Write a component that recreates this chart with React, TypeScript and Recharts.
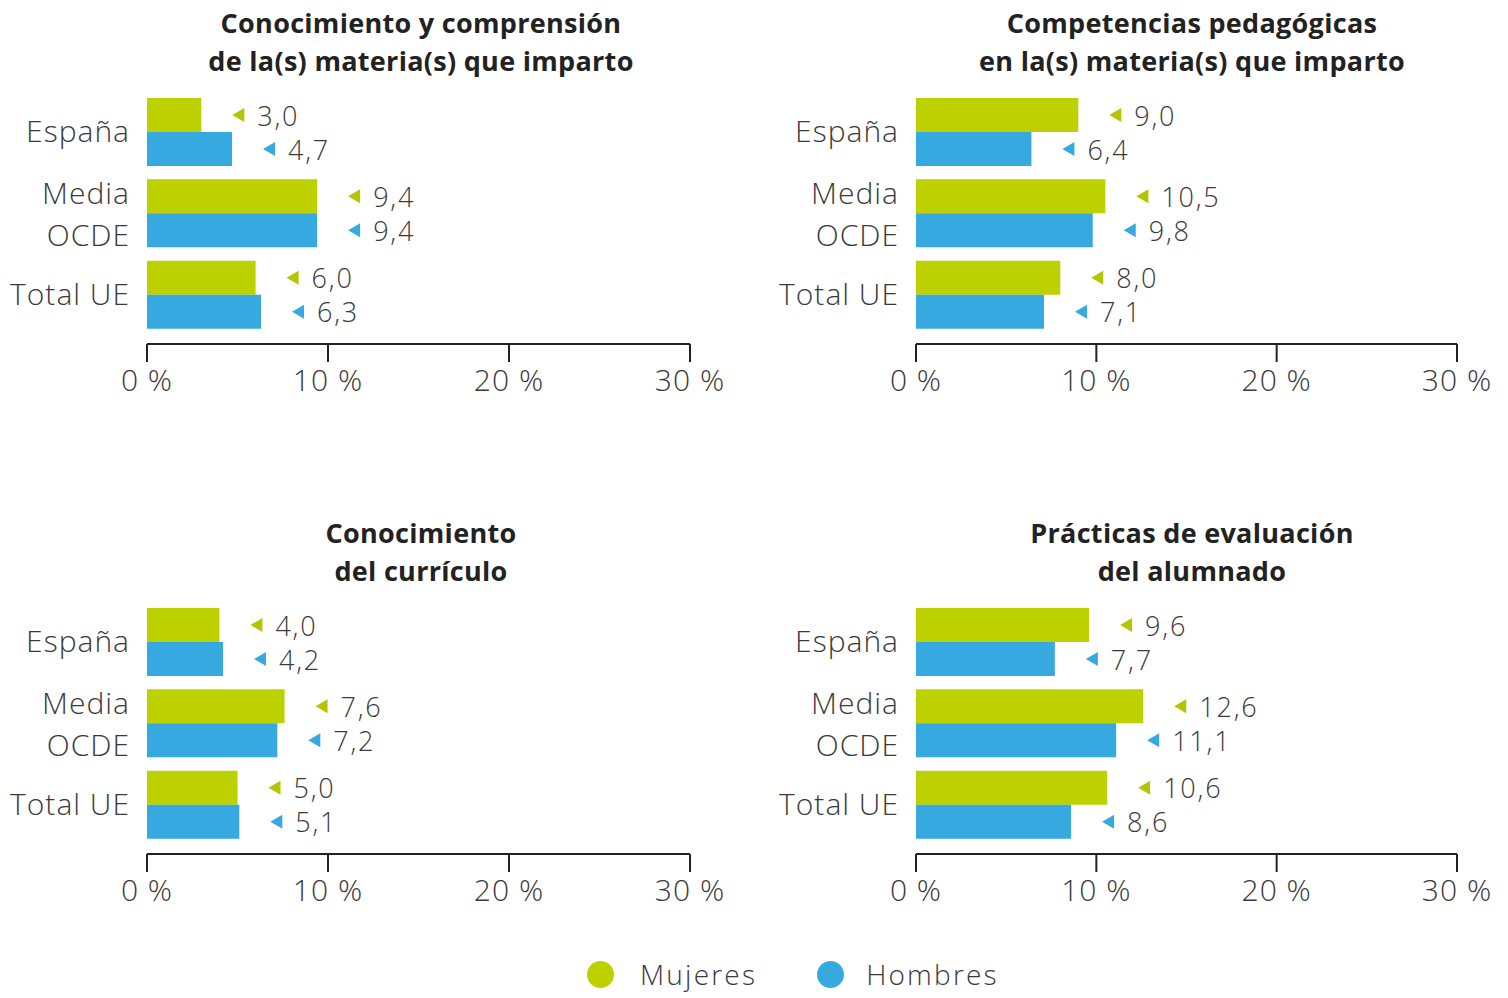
import React from "react"
import { BarChart, Bar, XAxis, YAxis, LabelList } from "recharts"

const categories = ["España", "Media OCDE", "Total UE"]
const seriesNames = ["Mujeres", "Hombres"]
const panelTitles = [
  ["Conocimiento y comprensión", "de la(s) materia(s) que imparto"],
  ["Competencias pedagógicas", "en la(s) materia(s) que imparto"],
  ["Conocimiento", "del currículo"],
  ["Prácticas de evaluación", "del alumnado"],
]
const mujeres = [
  [3.0, 9.4, 6.0],
  [9.0, 10.5, 8.0],
  [4.0, 7.6, 5.0],
  [9.6, 12.6, 10.6],
]
const hombres = [
  [4.7, 9.4, 6.3],
  [6.4, 9.8, 7.1],
  [4.2, 7.2, 5.1],
  [7.7, 11.1, 8.6],
]
const xTicks = [0, 10, 20, 30]

const GREEN = "#bdd000"
const BLUE = "#36a9e1"
const TEXT = "#3a3a3a"
const FONT = "'Open Sans', Lato, sans-serif"

const panels = [
  { left: 0, top: 0, plotW: 543, titleX: 421 },
  { left: 769, top: 0, plotW: 541, titleX: 423 },
  { left: 0, top: 510, plotW: 543, titleX: 421 },
  { left: 769, top: 510, plotW: 541, titleX: 423 },
]

const fmt = (v: number) => v.toFixed(1).replace(".", ",")

function makeValueLabel(color: string) {
  return (props: any) => {
    const { x, y, width, height, value } = props
    const tip = x + width + 31
    const cy = y + height / 2
    return (
      <g>
        <polygon
          points={`${tip},${cy} ${tip + 12},${cy - 7} ${tip + 12},${cy + 7}`}
          fill={color}
        />
        <text
          x={tip + 25}
          y={cy}
          dominantBaseline="central"
          fontSize={27}
          letterSpacing={1.8}
          fontFamily={FONT}
          fontWeight={300}
          fill={TEXT}
        >
          {fmt(value)}
        </text>
      </g>
    )
  }
}

function CategoryTick(props: any) {
  const { x, y, payload } = props
  const label: string = payload.value
  const lines = label === "Media OCDE" ? ["Media", "OCDE"] : [label]
  return (
    <text
      x={x}
      y={y}
      textAnchor="end"
      fontSize={30}
      letterSpacing={1}
      fontFamily={FONT}
      fontWeight={300}
      fill={TEXT}
    >
      {lines.map((l, i) => (
        <tspan
          key={l}
          x={x}
          dy={i === 0 ? (lines.length > 1 ? -21 : -1) : 42}
          dominantBaseline="central"
        >
          {l}
        </tspan>
      ))}
    </text>
  )
}

function Panel({ idx }: { idx: number }) {
  const p = panels[idx]
  const data = categories.map((c, i) => ({
    name: c,
    Mujeres: mujeres[idx][i],
    Hombres: hombres[idx][i],
  }))
  const chartW = 147 + p.plotW + 70
  return (
    <div style={{ position: "absolute", left: p.left, top: p.top, width: chartW, height: 420 }}>
      <div
        style={{
          position: "absolute",
          left: p.titleX - 300,
          width: 600,
          top: 4,
          textAlign: "center",
          fontFamily: FONT,
          fontWeight: 700,
          fontSize: 27,
          letterSpacing: 0.3,
          lineHeight: "38px",
          color: "#222",
        }}
      >
        {panelTitles[idx].map((t) => (
          <div key={t}>{t}</div>
        ))}
      </div>
      <div style={{ position: "absolute", left: 0, top: 0 }}>
        <BarChart
          width={chartW}
          height={420}
          data={data}
          layout="vertical"
          margin={{ top: 91, right: 70, left: 0, bottom: 0 }}
          barGap={0}
          barSize={34}
        >
          <XAxis
            type="number"
            domain={[0, 30]}
            ticks={xTicks}
            height={76}
            tickSize={18}
            tickMargin={8}
            axisLine={{ stroke: "#222", strokeWidth: 2 }}
            tickLine={{ stroke: "#222", strokeWidth: 2 }}
            tickFormatter={(v: number) => `${v} %`}
            tick={{ fontSize: 30, letterSpacing: 1, fontFamily: FONT, fontWeight: 300, fill: TEXT }}
          />
          <YAxis
            type="category"
            dataKey="name"
            width={147}
            axisLine={false}
            tickLine={false}
            tickSize={0}
            tickMargin={17}
            padding={{ top: 0, bottom: 9 }}
            tick={<CategoryTick />}
            interval={0}
          />
          <Bar dataKey={seriesNames[0]} fill={GREEN} isAnimationActive={false}>
            <LabelList dataKey={seriesNames[0]} content={makeValueLabel("#b3c400")} />
          </Bar>
          <Bar dataKey={seriesNames[1]} fill={BLUE} isAnimationActive={false}>
            <LabelList dataKey={seriesNames[1]} content={makeValueLabel(BLUE)} />
          </Bar>
        </BarChart>
      </div>
    </div>
  )
}

export default function App() {
  return (
    <div
      style={{
        position: "absolute",
        left: 0,
        top: 0,
        width: 1508,
        height: 998,
        background: "#fff",
        overflow: "hidden",
      }}
    >
      {[0, 1, 2, 3].map((i) => (
        <Panel key={i} idx={i} />
      ))}
      <div
        style={{
          position: "absolute",
          top: 958,
          left: 587,
          height: 32,
          display: "flex",
          alignItems: "center",
          fontFamily: FONT,
          fontWeight: 300,
          fontSize: 28,
          lineHeight: "30px",
          letterSpacing: 2.2,
          color: TEXT,
        }}
      >
        <span style={{ width: 27, height: 27, borderRadius: "50%", background: GREEN, display: "inline-block" }} />
        <span style={{ marginLeft: 26 }}>{seriesNames[0]}</span>
        <span
          style={{ width: 27, height: 27, borderRadius: "50%", background: BLUE, display: "inline-block", marginLeft: 60 }}
        />
        <span style={{ marginLeft: 22 }}>{seriesNames[1]}</span>
      </div>
    </div>
  )
}
